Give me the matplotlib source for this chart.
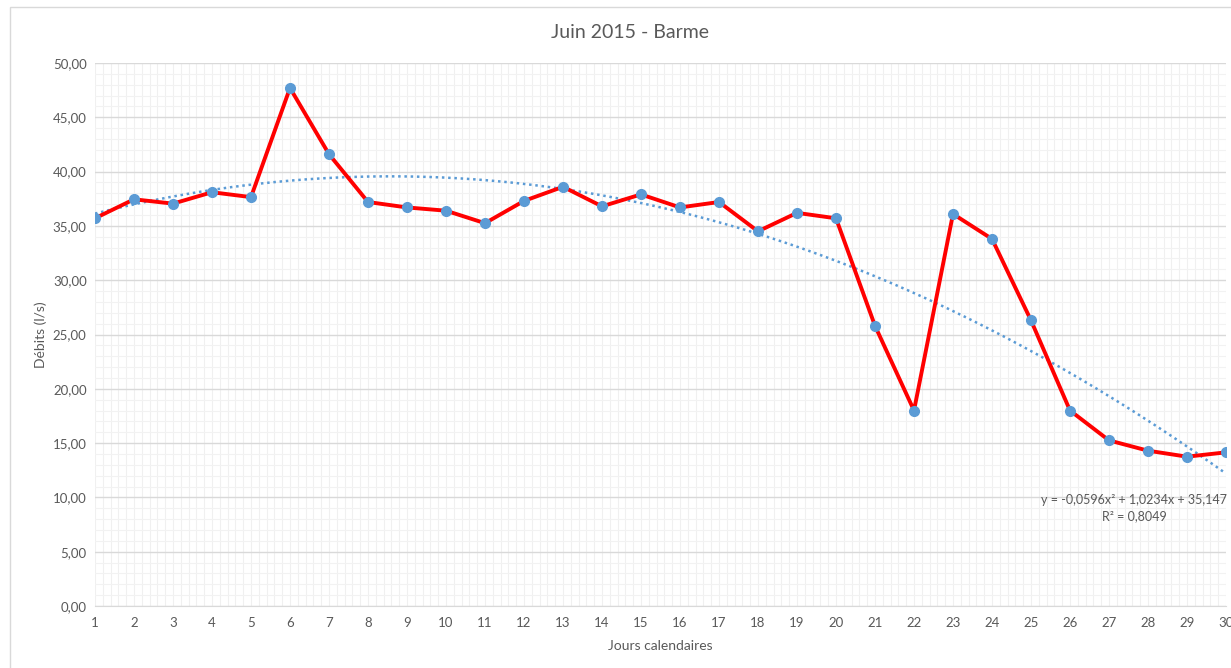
import numpy as np
import matplotlib
matplotlib.use("Agg")
import matplotlib.pyplot as plt
from matplotlib.ticker import MultipleLocator, FuncFormatter
from matplotlib.patches import Rectangle

# donnees
jours = list(range(1, 31))
debits = [35.7, 37.45, 37.05, 38.1, 37.65, 47.7, 41.6, 37.2, 36.7, 36.4,
          35.25, 37.3, 38.6, 36.8, 37.9, 36.7, 37.2, 34.5, 36.2, 35.7,
          25.8, 18.0, 36.1, 33.8, 26.3, 18.0, 15.25, 14.3, 13.75, 14.15]
titre = "Juin 2015 - Barme"
equation = "y = -0,0596x² + 1,0234x + 35,147\nR² = 0,8049"

plt.rcParams['font.family'] = ['Lato', 'DejaVu Sans']
gris = '#595959'

fig = plt.figure(figsize=(12.31, 6.68), dpi=100)
fig.patches.append(Rectangle((10/1231, -0.1), 1.2, 1 - 7/668 + 0.1,
                             transform=fig.transFigure, fill=False,
                             edgecolor='#d9d9d9', linewidth=1))
ax = fig.add_axes([95/1231, 1 - 606/668, (1226 - 95)/1231, (606 - 63)/668])

# courbe de tendance polynomiale (ordre 2)
coef = np.polyfit(jours, debits, 2)
xx = np.linspace(1, 30, 300)
ax.plot(xx, np.polyval(coef, xx), linestyle=(0, (1, 1.5)), color='#5b9bd5',
        linewidth=1.8, zorder=3)

ax.plot(jours, debits, color='#ff0000', linewidth=2.8, marker='o',
        markersize=7, markerfacecolor='#5b9bd5', markeredgecolor='#5b9bd5',
        zorder=4)

ax.set_xlim(1, 30)
ax.set_ylim(0, 50)
ax.xaxis.set_major_locator(MultipleLocator(1))
ax.xaxis.set_minor_locator(MultipleLocator(0.2))
ax.yaxis.set_major_locator(MultipleLocator(5))
ax.yaxis.set_minor_locator(MultipleLocator(1))
ax.yaxis.set_major_formatter(FuncFormatter(lambda v, p: f"{v:.2f}".replace('.', ',')))

# quadrillage : lignes verticales toutes fines
ax.grid(axis='y', which='major', color='#d9d9d9', linewidth=1)
ax.grid(axis='y', which='minor', color='#f2f2f2', linewidth=0.8)
ax.grid(axis='x', which='both', color='#f0f0f0', linewidth=0.8)
ax.set_axisbelow(True)
for s in ['top', 'right', 'left']:
    ax.spines[s].set_visible(False)
ax.spines['bottom'].set_color('#d9d9d9')
ax.tick_params(which='both', length=0, colors=gris, labelsize=9.5)
ax.tick_params(axis='x', pad=8)
ax.tick_params(axis='y', pad=6)

fig.text(630/1231, 1 - 33/668, titre, ha='center', va='center', color=gris,
         fontsize=14)
ax.set_xlabel("Jours calendaires", color=gris, fontsize=10, labelpad=8)
ax.set_ylabel("Débits (l/s)", color=gris, fontsize=10)
ax.yaxis.set_label_coords((47 - 95)/(1226 - 95), 0.5)

ax.text(27.64, 9.0, equation, ha='center', va='center', color=gris,
        fontsize=9, linespacing=1.4)

fig.savefig("out.png", dpi=100)
